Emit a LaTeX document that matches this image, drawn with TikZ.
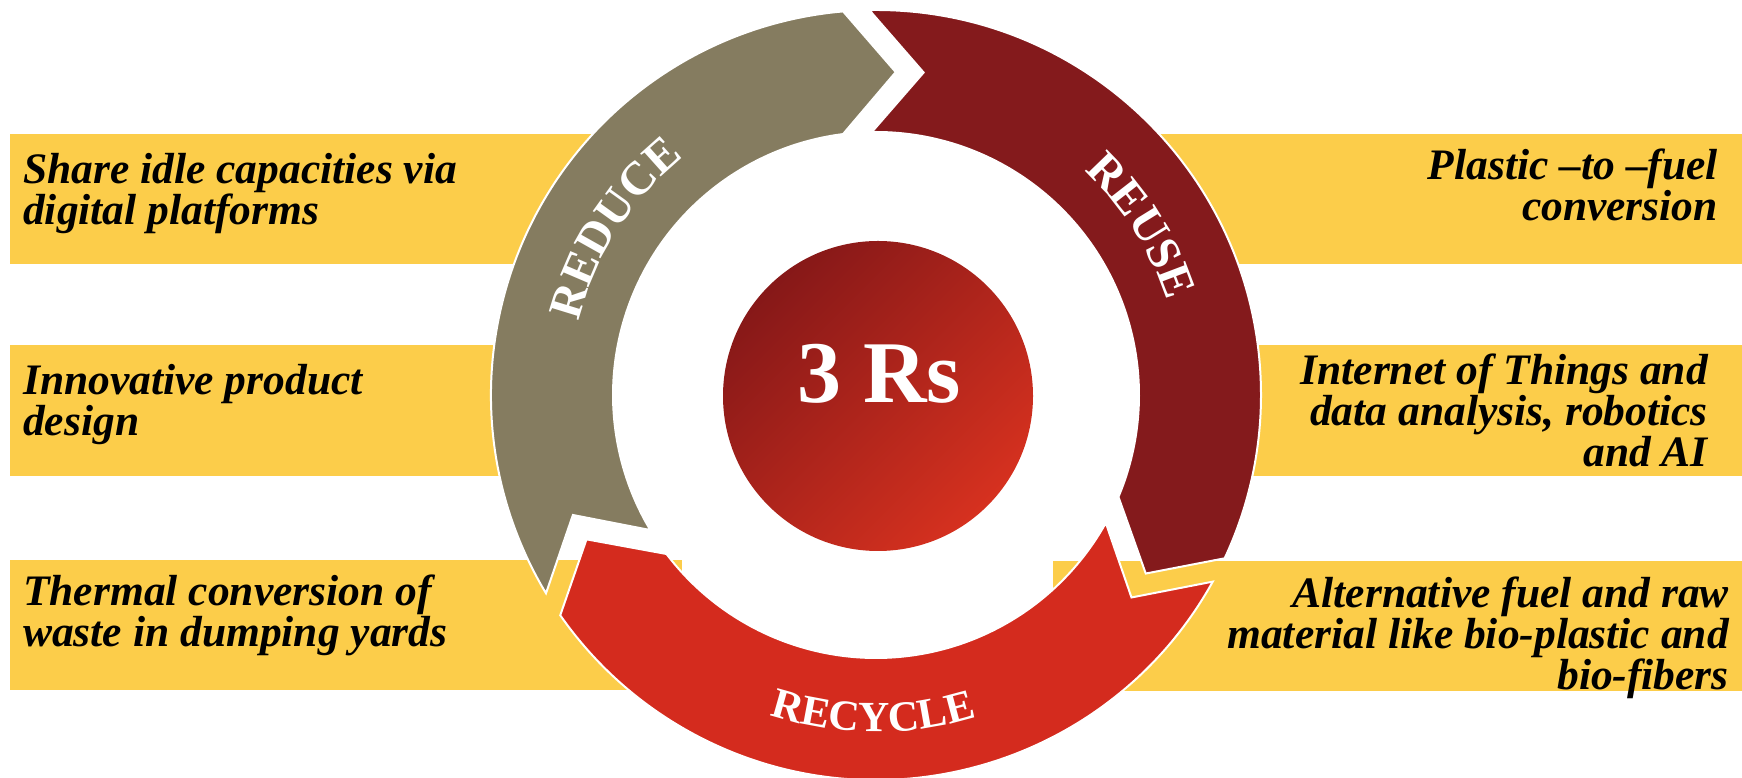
\documentclass[tikz,border=0pt]{standalone}
\usepackage{fontspec}
\setmainfont{Liberation Serif}
\usetikzlibrary{decorations.text}
\definecolor{baryellow}{HTML}{FCCD4A}
\definecolor{reducecol}{HTML}{857C60}
\definecolor{reusecol}{HTML}{841A1C}
\definecolor{recyclecol}{HTML}{D42B1E}
\definecolor{cdark}{HTML}{861818}
\definecolor{clight}{HTML}{D6311F}
\newcommand\ringlabelfont{\fontsize{47}{47}\selectfont\bfseries}
\newcommand\recyclefont{\fontsize{43}{43}\selectfont\bfseries}
\tikzset{
  pics/ringarrow/.style={code={
    \path[segstyle,fill=#1] (211:385) arc[start angle=211,end angle=94.9,radius=385pt]
      -- (86.5:323.5) -- (97.2:263)
      arc[start angle=97.2,end angle=210.9,radius=263pt]
      -- (201.6:326) -- cycle;
  }},
  segstyle/.style={draw=white,line width=2pt,line join=miter},
  bar/.style={fill=baryellow},
  bodytext/.style={font=\fontsize{43.5}{41}\selectfont\bfseries\itshape,inner sep=0pt,text=black},
  lefttext/.style={bodytext,align=left,anchor=base west},
  righttext/.style={bodytext,align=right,anchor=base east},
}
\begin{document}
\begin{tikzpicture}[x=1pt,y=1pt]
\useasboundingbox (0,0) rectangle (1742,778);
\fill[white] (0,0) rectangle (1742,778);
% bars
\fill[bar] (10,514) rectangle (600,644);
\fill[bar] (10,302) rectangle (600,433);
\fill[bar] (10,88) rectangle (682,218);
\fill[bar] (1110,514) rectangle (1742,644);
\fill[bar] (1138,302) rectangle (1742,433);
\fill[bar] (1053,87) rectangle (1742,217);
% ring arrows
\pic at (876,383) {ringarrow=reducecol};
\pic[rotate=-120] at (876,383) {ringarrow=reusecol};
\pic[rotate=-240] at (876,383) {ringarrow=recyclecol};
% ring labels
\begin{scope}[shift={(876,383)}]
\path[decorate,decoration={text along path,text align=center,text color=white,
  text={|\ringlabelfont|REDUCE}}]
  (200:306) arc[start angle=200,end angle=95,radius=306pt];
\path[decorate,decoration={text along path,text align=center,text color=white,
  text={|\ringlabelfont|REUSE}}]
  (85:306) arc[start angle=85,end angle=-20,radius=306pt];
\path[decorate,decoration={text along path,text align=center,text color=white,
  text={|\recyclefont|RECYCLE}}]
  (220:337) arc[start angle=220,end angle=319,radius=337pt];
\end{scope}
% center
\shade[top color=cdark,bottom color=clight,shading angle=45] (878,382) circle[radius=155pt];
\node[font=\fontsize{88}{88}\selectfont\bfseries,text=white,inner sep=0pt,anchor=base] (core) at (879,375) {3 Rs};
% texts (anchor = baseline of last line)
\node[lefttext] (t1) at (23,553) {Share idle capacities via\\digital platforms};
\node[lefttext] (t2) at (23,342) {Innovative product\\design};
\node[lefttext] (t3) at (23,131) {Thermal conversion of\\waste in dumping yards};
\node[righttext] (t4) at (1718,557) {Plastic –to –fuel\\conversion};
\node[righttext] (t5) at (1708,311) {Internet of Things and\\data analysis, robotics\\and AI};
\node[righttext] (t6) at (1729,88) {Alternative fuel and raw\\material like bio-plastic and\\bio-fibers};
\end{tikzpicture}
\end{document}
